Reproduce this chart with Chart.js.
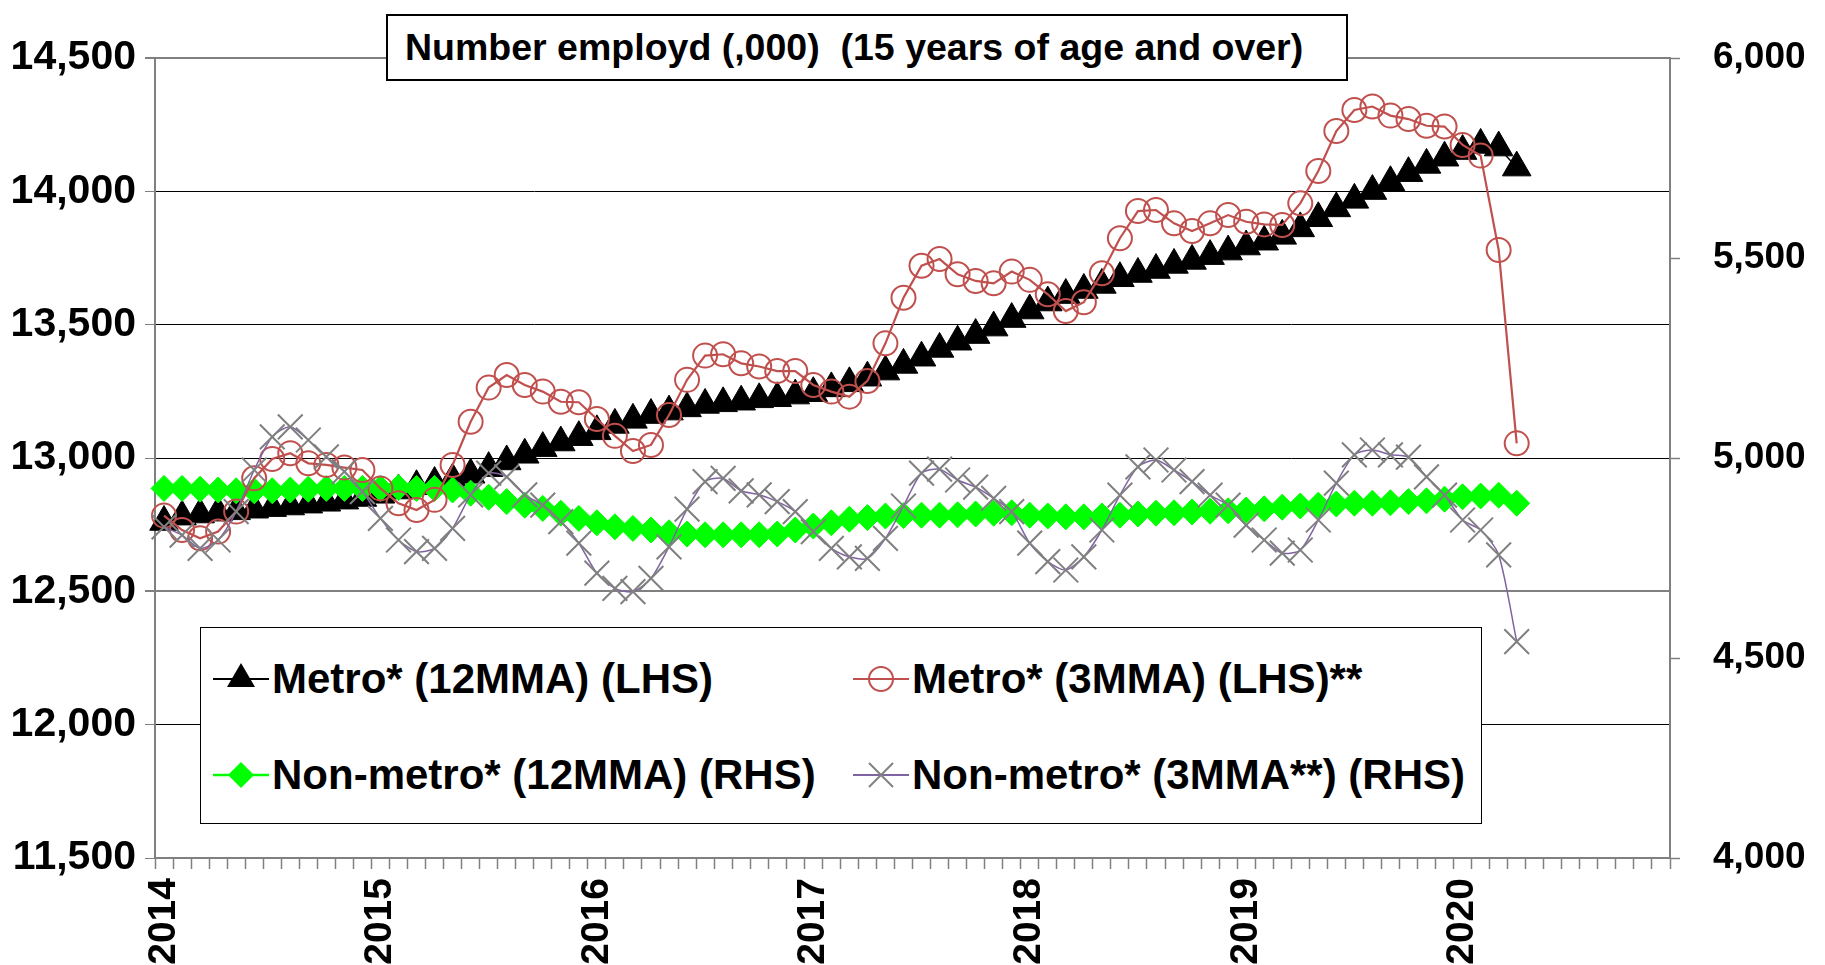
<!DOCTYPE html>
<html>
<head>
<meta charset="utf-8">
<title>Number employed - metro / non-metro</title>
<script src="https://cdn.jsdelivr.net/npm/chart.js@4.4.1/dist/chart.umd.min.js"></script>
<style>
    html, body { margin: 0; padding: 0; background: #fff; }
    #wrap { position: relative; width: 1825px; height: 965px; font-family: 'Liberation Sans', Arial, sans-serif; font-weight: bold; color: #000; }
    #chart { position: absolute; left: 0; top: 0; }
    .title-box {
        position: absolute; left: 386px; top: 14px; width: 962px; height: 67px;
        box-sizing: border-box; border: 2px solid #000; background: #fff;
        font-size: 37.5px; line-height: 63px; padding-left: 17px; white-space: pre;
    }
    .legend-box {
        position: absolute; left: 200px; top: 627px; width: 1282px; height: 197px;
        box-sizing: border-box; border: 1.5px solid #000; background: #fff;
    }
    .legend-item { position: absolute; height: 50px; display: flex; align-items: center; white-space: nowrap; font-size: 42px; }
    .legend-item svg { display: block; margin-right: 1px; }
</style>
</head>
<body>
<div id="wrap">
    <canvas id="chart" width="1825" height="965"></canvas>
    <div class="title-box">Number employd (,000)  (15 years of age and over)</div>
    <div class="legend-box" id="legend"></div>
</div>
<script>
// Monthly, Jan 2014 .. Apr 2020 (axis runs to Dec 2020)
const years = ['2014', '2015', '2016', '2017', '2018', '2019', '2020'];

// Metro* 12-month moving average (LHS)
const metro12 = [
    12760, 12780, 12788, 12795, 12800, 12806, 12812, 12818, 12825, 12832, 12840, 12850,
    12862, 12878, 12894, 12906, 12919, 12937, 12962, 12987, 13012, 13037, 13058, 13078,
    13100, 13124, 13143, 13161, 13174, 13186, 13199, 13205, 13211, 13220, 13224, 13234,
    13243, 13261, 13280, 13301, 13324, 13349, 13376, 13409, 13436, 13461, 13489, 13521,
    13553, 13583, 13611, 13630, 13649, 13674, 13690, 13705, 13724, 13739, 13757, 13774,
    13793, 13811, 13833, 13861, 13899, 13936, 13968, 14001, 14034, 14068, 14099, 14126,
    14151, 14174, 14164, 14089
];

// Metro* 3-month moving average (LHS)
const metro3 = [
    12784, 12730, 12699, 12724, 12799, 12924, 12996, 13018, 12980, 12974, 12964, 12955,
    12886, 12830, 12805, 12843, 12974, 13136, 13264, 13311, 13274, 13249, 13211, 13209,
    13146, 13083, 13026, 13049, 13161, 13293, 13384, 13389, 13355, 13343, 13326, 13326,
    13274, 13249, 13230, 13289, 13430, 13601, 13721, 13746, 13689, 13664, 13655, 13699,
    13668, 13614, 13551, 13584, 13693, 13824, 13926, 13930, 13880, 13851, 13880, 13911,
    13886, 13876, 13874, 13955, 14076, 14226, 14305, 14318, 14284, 14271, 14246, 14243,
    14174, 14134, 13780, 13055
];

// Non-metro* 12-month moving average (RHS)
const nonMetro12 = [
    4924, 4924, 4922, 4920, 4918, 4918, 4918, 4920, 4922, 4924, 4924, 4924,
    4924, 4926, 4924, 4924, 4920, 4912, 4902, 4891, 4882, 4874, 4862, 4849,
    4838, 4828, 4824, 4820, 4813, 4810, 4808, 4808, 4808, 4808, 4810, 4820,
    4830, 4838, 4847, 4851, 4855, 4856, 4857, 4857, 4858, 4860, 4862, 4863,
    4857, 4855, 4853, 4853, 4855, 4857, 4860, 4862, 4863, 4865, 4867, 4868,
    4870, 4873, 4877, 4880, 4882, 4885, 4887, 4887, 4888, 4891, 4893, 4897,
    4903, 4905, 4907, 4887
];

// Non-metro* 3-month moving average (RHS)
const nonMetro3 = [
    4828, 4807, 4774, 4795, 4866, 4970, 5053, 5078, 5045, 5003, 4966, 4916,
    4849, 4795, 4766, 4774, 4824, 4908, 4962, 4953, 4908, 4882, 4841, 4787,
    4712, 4674, 4666, 4699, 4778, 4872, 4941, 4949, 4918, 4908, 4891, 4866,
    4816, 4774, 4753, 4749, 4799, 4880, 4962, 4972, 4945, 4927, 4899, 4866,
    4787, 4741, 4720, 4753, 4820, 4907, 4978, 4995, 4970, 4941, 4907, 4882,
    4832, 4795, 4762, 4770, 4845, 4937, 5008, 5020, 5008, 5002, 4953, 4907,
    4845, 4820, 4758, 4541
];

const leftTicks = { min: 11500, max: 14500, step: 500 };
const rightTicks = { min: 4000, max: 6000, step: 500 };

// one category per month
const months = [];
years.forEach(y => {
    for (let m = 1; m <= 12; m++) months.push(y + '-' + String(m).padStart(2, '0'));
});

const GREY = '#808080';
const RED = '#C0504D';
const GREEN = '#00FF00';
const PURPLE = '#8064A2';
const FONT = "'Liberation Sans', Arial, sans-serif";

const chart = new Chart(document.getElementById('chart'), {
    type: 'line',
    data: {
        labels: months,
        datasets: [
            {
                label: 'Metro* (12MMA) (LHS)',
                data: metro12,
                yAxisID: 'yL',
                borderColor: '#000',
                borderWidth: 1.5,
                pointStyle: 'triangle',
                pointRadius: 16.5,
                pointBackgroundColor: '#000',
                pointBorderColor: '#000',
                pointBorderWidth: 1,
                order: 4
            },
            {
                label: 'Metro* (3MMA) (LHS)**',
                data: metro3,
                yAxisID: 'yL',
                borderColor: RED,
                borderWidth: 2.2,
                pointStyle: 'circle',
                pointRadius: 12,
                pointBackgroundColor: 'rgba(0,0,0,0)',
                pointBorderColor: RED,
                pointBorderWidth: 2,
                order: 2
            },
            {
                label: 'Non-metro* (12MMA) (RHS)',
                data: nonMetro12,
                yAxisID: 'yR',
                borderColor: GREEN,
                borderWidth: 2,
                pointStyle: 'rectRot',
                pointRadius: 13,
                pointBackgroundColor: GREEN,
                pointBorderColor: GREEN,
                pointBorderWidth: 1,
                order: 3
            },
            {
                label: 'Non-metro* (3MMA**) (RHS)',
                data: nonMetro3,
                yAxisID: 'yR',
                borderColor: PURPLE,
                borderWidth: 1.5,
                tension: 0.25,
                pointStyle: 'crossRot',
                pointRadius: 17.5,
                pointBorderColor: GREY,
                pointBorderWidth: 2,
                order: 1
            }
        ]
    },
    options: {
        responsive: false,
        animation: false,
        devicePixelRatio: 1,
        layout: { padding: { top: 58, left: 0, right: 0, bottom: 0 } },
        plugins: { legend: { display: false }, tooltip: { enabled: false }, title: { display: false } },
        scales: {
            x: {
                type: 'category',
                offset: true,
                afterFit: s => { s.height = 107; },
                border: { color: GREY, width: 2 },
                grid: { drawOnChartArea: false, offset: true, tickLength: 11, tickColor: GREY, tickWidth: 1.5 },
                ticks: {
                    autoSkip: false,
                    minRotation: 90,
                    maxRotation: 90,
                    padding: 9,
                    color: '#000',
                    font: { family: FONT, size: 39, weight: 'bold' },
                    callback: function (val) {
                        const l = this.getLabelForValue(val);
                        return l.endsWith('-01') ? l.slice(0, 4) : '';
                    }
                }
            },
            yL: {
                position: 'left',
                min: leftTicks.min,
                max: leftTicks.max,
                afterFit: s => { s.width = 155; },
                border: { color: GREY, width: 2 },
                grid: {
                    color: c => (c.tick && (c.tick.value === 12500 || c.tick.value === 14500)) ? GREY : '#000',
                    lineWidth: c => (c.tick && (c.tick.value === 12500 || c.tick.value === 14500)) ? 2 : 1,
                    tickLength: 10,
                    tickColor: GREY
                },
                ticks: {
                    stepSize: leftTicks.step,
                    padding: 9,
                    color: '#000',
                    font: { family: FONT, size: 41, weight: 'bold' },
                    callback: v => v.toLocaleString('en-US')
                }
            },
            yR: {
                position: 'right',
                min: rightTicks.min,
                max: rightTicks.max,
                afterFit: s => { s.width = 155; },
                border: { color: GREY, width: 2 },
                grid: { drawOnChartArea: false, tickLength: 10, tickColor: GREY, tickWidth: 1.5 },
                ticks: {
                    stepSize: rightTicks.step,
                    padding: 33,
                    color: '#000',
                    font: { family: FONT, size: 37, weight: 'bold' },
                    callback: v => v.toLocaleString('en-US')
                }
            }
        }
    }
});

// Legend, built as HTML inside the framed box
function markerSvg(kind) {
    const line = (c, w) => `<line x1="2" y1="25" x2="58" y2="25" stroke="${c}" stroke-width="${w}"/>`;
    if (kind === 'triangle') {
        return line('#000', 2) + '<polygon points="30,9 44,33 16,33" fill="#000"/>';
    }
    if (kind === 'circle') {
        return line(RED, 2.2) + `<circle cx="30" cy="25" r="12" fill="none" stroke="${RED}" stroke-width="2"/>`;
    }
    if (kind === 'diamond') {
        return line(GREEN, 2.5) + `<polygon points="30,12 43,25 30,38 17,25" fill="${GREEN}"/>`;
    }
    return line(PURPLE, 1.8) +
        `<line x1="18" y1="13" x2="42" y2="37" stroke="${GREY}" stroke-width="2"/>` +
        `<line x1="42" y1="13" x2="18" y2="37" stroke="${GREY}" stroke-width="2"/>`;
}

const legendItems = [
    { text: chart.data.datasets[0].label, kind: 'triangle', left: 10, top: 26 },
    { text: chart.data.datasets[1].label, kind: 'circle', left: 650, top: 26 },
    { text: chart.data.datasets[2].label, kind: 'diamond', left: 10, top: 122 },
    { text: chart.data.datasets[3].label, kind: 'cross', left: 650, top: 122 }
];

const legend = document.getElementById('legend');
legendItems.forEach(item => {
    const div = document.createElement('div');
    div.className = 'legend-item';
    div.style.left = item.left + 'px';
    div.style.top = item.top + 'px';
    div.innerHTML = `<svg width="60" height="50" viewBox="0 0 60 50">${markerSvg(item.kind)}</svg><span>${item.text}</span>`;
    legend.appendChild(div);
});
</script>
</body>
</html>
